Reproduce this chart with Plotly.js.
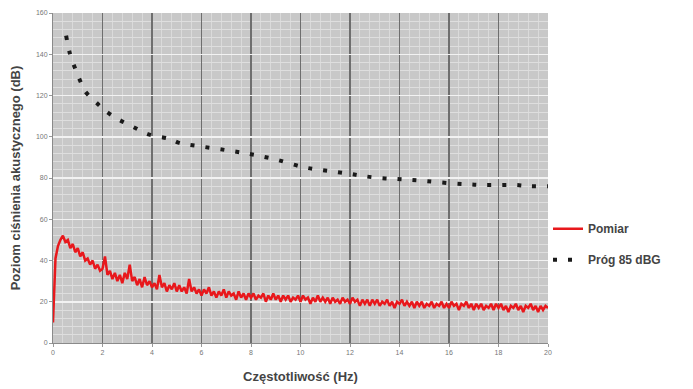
<!DOCTYPE html>
<html>
<head>
<meta charset="utf-8">
<script src="https://cdn.plot.ly/plotly-3.0.1.min.js"></script>
<style>html,body{margin:0;padding:0;background:#fff;}#chart{width:693px;height:389px;}</style>
</head>
<body>
<div id="chart"></div>
<script>
// Measured level ("Pomiar"), sampled every 0.1 Hz from 0 to 20 Hz
const pomiarStartHz = 0;
const pomiarStepHz = 0.1;
const pomiarDb = [
10,41,47,50,52,49,50,46,48,44,
46,42,44,40,41,38,40,36,38,35,
36,42,33,35,31,34,30,33,29,34,
31,38,30,32,28,31,27,32,28,30,
27,29,26,33,27,29,25,28,26,29,
25,28,25,27,24,31,25,27,24,26,
23,26,24,27,23,25,22,25,23,26,
22,25,23,24,21,25,22,24,21,24,
22,24,21,23,22,24,20,23,21,24,
21,23,20,23,21,23,20,22,21,23,
20,23,21,22,19,22,20,23,20,22,
20,22,19,22,20,21,19,22,20,21,
19,22,20,21,18,21,19,21,18,21,
19,21,18,20,19,21,18,20,17,20,
19,21,18,20,18,20,17,20,18,20,
17,19,18,20,17,19,18,20,17,19,
17,20,18,19,16,19,18,20,17,19,
16,19,17,19,16,18,17,19,16,19,
17,19,16,18,15,18,17,19,16,18,
15,18,17,19,16,18,15,18,16,18,
17
];

// Threshold curve ("Próg 85 dBG")
const progHz = [0.53,0.69,0.93,1.1,1.3,1.8,2.07,2.56,3.2,3.9,4.7,5.1,5.8,7,8,9,10.06,10.75,11.4,12,12.5,13.2,13.9,14.5,15.1,15.9,16.7,17.3,18,18.7,19.3,20];
const progDb = [149,140,132,127,122,116,113,109,105,101,99,97,95.6,93.5,91.5,89,85.4,84,83,82,81,80,79.5,79,78.5,77.6,77,76.6,76.6,76.6,76,76];

const xTicks = [0,2,4,6,8,10,12,14,16,18,20];
const yTicks = [0,20,40,60,80,100,120,140,160];

const traces = [
  {
    type: 'scatter', mode: 'lines', name: 'Pomiar', legendgroup: 'a',
    x0: pomiarStartHz, dx: pomiarStepHz, y: pomiarDb,
    line: {color: '#e8181c', width: 2.5}
  },
  {
    type: 'scatter', mode: 'lines', name: 'Próg 85 dBG', legendgroup: 'b',
    x: progHz, y: progDb,
    line: {color: '#1a1a1a', width: 4, dash: '4px,11px', shape: 'spline'}
  }
];

const titleFont = {size: 13, color: '#444', family: 'Liberation Sans, Arial, sans-serif', weight: 'bold'};

const layout = {
  width: 693, height: 389,
  margin: {l: 53, r: 145, t: 13, b: 46},
  paper_bgcolor: '#ffffff',
  plot_bgcolor: '#c8c8c8',
  font: {family: 'Liberation Sans, Arial, sans-serif', color: '#333'},
  showlegend: true,
  legend: {
    x: 1.0, xanchor: 'left', y: 0.39, yanchor: 'top',
    bgcolor: 'rgba(0,0,0,0)',
    font: {size: 12, color: '#444', weight: 'bold'},
    tracegroupgap: 12, itemwidth: 30
  },
  xaxis: {
    range: [0, 20], tickvals: xTicks, ticktext: xTicks.map(String),
    showgrid: true, gridcolor: '#6e6e6e', gridwidth: 1.5,
    minor: {dtick: 0.4, showgrid: true, gridcolor: '#dadada', gridwidth: 1},
    zeroline: false, showline: true, linecolor: '#8a8a8a', linewidth: 1,
    ticks: 'outside', ticklen: 3, tickcolor: '#999', tickfont: {size: 7, color: '#777'},
    title: {text: 'Częstotliwość (Hz)', font: titleFont, standoff: 16}
  },
  yaxis: {
    range: [0, 160], tickvals: yTicks, ticktext: yTicks.map(String),
    showgrid: true, gridcolor: '#f2f2f2', gridwidth: 1.5,
    minor: {dtick: 4, showgrid: true, gridcolor: '#dedede', gridwidth: 1},
    zeroline: false, showline: true, linecolor: '#8a8a8a', linewidth: 1,
    ticks: 'outside', ticklen: 3, tickcolor: '#999', tickfont: {size: 7, color: '#777'},
    title: {text: 'Poziom ciśnienia akustycznego (dB)', font: titleFont, standoff: 12}
  }
};

Plotly.newPlot('chart', traces, layout, {displayModeBar: false, staticPlot: true});
</script>
</body>
</html>
